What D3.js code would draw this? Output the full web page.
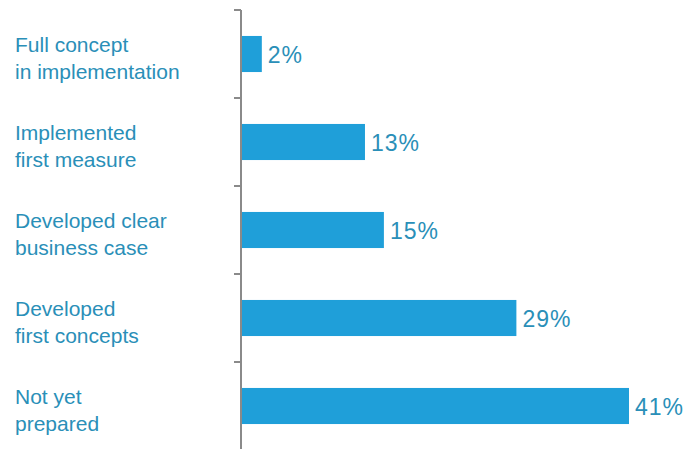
<!DOCTYPE html>
<html>
  <head>
    <title>Implementation status</title>
    <script src="https://d3js.org/d3.v7.min.js" charset="utf-8"></script>
    <style>
    body {
        margin: 0;
        background: #fff;
        font-family: "Liberation Sans", Arial, sans-serif;
    }
    .cat, .val {
        fill: #2a8fb8;
    }
    .val {
        letter-spacing: 1px;
    }
    </style>
  </head>

  <body>
    <script>
var categories = [
  ["Full concept", "in implementation"],
  ["Implemented", "first measure"],
  ["Developed clear", "business case"],
  ["Developed", "first concepts"],
  ["Not yet", "prepared"]
];
var values = [2.2, 13.1, 15.1, 29.1, 41];
var valueLabels = ["2%", "13%", "15%", "29%", "41%"];

var width = 697;
var height = 449;
var barColor = "#1f9fd9";
var axisColor = "#8a8a8a";

var svg = d3.select("body")
  .append("svg")
  .attr("width", width)
  .attr("height", height);

var keys = categories.map(function(d, i){ return i; });

// one slot per category, ticks sit on slot edges
var slot = d3.scaleBand()
  .domain(keys)
  .range([10, 450])
  .padding(0);

var barH = slot.bandwidth() * 0.41;

var x = d3.scaleLinear()
  .domain([0, 41])
  .range([241, 629]);

// bars
svg.selectAll("rect.bar")
  .data(values)
  .enter()
  .append("rect")
  .attr("class", "bar")
  .attr("x", x(0))
  .attr("y", function(d, i){ return slot(i) + (slot.bandwidth() - barH) / 2; })
  .attr("width", function(d){ return x(d) - x(0); })
  .attr("height", barH)
  .attr("fill", barColor);

// axis line and ticks
svg.append("line")
  .attr("x1", x(0)).attr("x2", x(0))
  .attr("y1", slot.range()[0]).attr("y2", slot.range()[1])
  .attr("stroke", axisColor)
  .attr("stroke-width", 2);

var tickPos = keys.map(function(k){ return slot(k); }).concat([slot.range()[1]]);
svg.selectAll("line.tick")
  .data(tickPos)
  .enter()
  .append("line")
  .attr("class", "tick")
  .attr("x1", x(0) - 7).attr("x2", x(0))
  .attr("y1", function(d){ return d; })
  .attr("y2", function(d){ return d; })
  .attr("stroke", axisColor)
  .attr("stroke-width", 2);

// value labels
svg.selectAll("text.val")
  .data(values)
  .enter()
  .append("text")
  .attr("class", "val")
  .attr("x", function(d){ return x(d) + 6; })
  .attr("y", function(d, i){ return slot(i) + slot.bandwidth() / 2 + 9; })
  .attr("font-size", "23px")
  .text(function(d, i){ return valueLabels[i]; });

// category labels, two lines each
var cat = svg.selectAll("text.cat")
  .data(categories)
  .enter()
  .append("text")
  .attr("class", "cat")
  .attr("font-size", "21px")
  .attr("y", function(d, i){ return slot(i) + slot.bandwidth() / 2 - 2; });

cat.selectAll("tspan")
  .data(function(d){ return d; })
  .enter()
  .append("tspan")
  .attr("x", 15)
  .attr("dy", function(d, j){ return j === 0 ? 0 : 27; })
  .text(function(d){ return d; });

    </script>
  </body>
</html>
